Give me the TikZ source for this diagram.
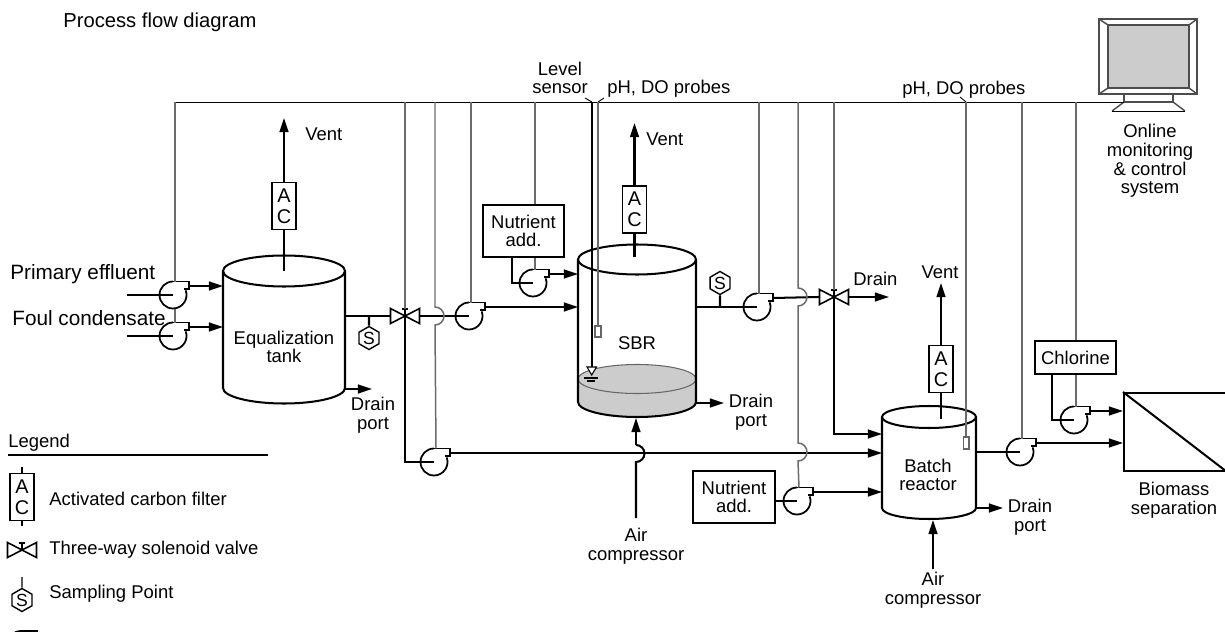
\documentclass[tikz,border=0pt]{standalone}
\usepackage{fontspec}
\setmainfont{Liberation Sans}
\usepackage{tikz}
\usetikzlibrary{positioning,arrows.meta,shapes.geometric}

\colorlet{signalgray}{black!58}
\colorlet{fillgray}{black!20}

\tikzset{
	lab/.style={font=\fontsize{10.5}{10.7}\selectfont,align=center,inner sep=0pt},
	labbig/.style={font=\fontsize{11.5}{12}\selectfont,align=left,inner sep=0pt},
	labfeed/.style={font=\fontsize{11.8}{12}\selectfont,align=left,inner sep=0pt},
	pipe/.style={line width=1.15pt,black},
	flow/.style={pipe,-{Triangle[length=8pt,width=5pt]}},
	signal/.style={line width=0.85pt,signalgray},
	wire/.style={line width=0.5pt,black},
	acbox/.style={draw,line width=1pt,fill=white,minimum width=0.48cm,minimum height=0.94cm,
		inner sep=0pt,align=center,font=\fontsize{11.3}{12}\selectfont},
	addbox/.style={draw,line width=1pt,fill=white,inner sep=0pt,align=center,
		font=\fontsize{10.5}{10.7}\selectfont},
	sample/.style={draw,regular polygon,regular polygon sides=6,shape border rotate=30,
		line width=0.8pt,minimum size=0.46cm,inner sep=0pt,font=\fontsize{10}{10}\selectfont},
	pump/.pic={
		\coordinate (-c) at (0,0);
		\coordinate (-top) at (2,-13.5);
		\coordinate (-out) at (15.7,-9);
		\draw[line width=1pt] (0,-13.5) -- (15.7,-13.5) -- (15.7,-5.7) -- (11,-5.7);
		\draw[line width=1pt] (0,-13.5) arc[start angle=-90,end angle=-380,radius=13.5];
	},
	valve/.pic={
		\coordinate (-c) at (0,0);
		\coordinate (-top) at (0,-7);
		\coordinate (-left) at (-14.5,0);
		\coordinate (-right) at (14.5,0);
		\draw[line width=0.9pt] (-14.5,-7.5) -- (14.5,7.5) -- (14.5,-7.5) -- (-14.5,7.5) -- cycle;
		\draw[line width=0.9pt] (0,0) -- (0,-7) (-3,-7) -- (3,-7);
	},
}

% cx, rx, top, bottom, ry
\newcommand{\tankshape}[6]{
	\coordinate (#1w) at ({#2-#3},#4);
	\coordinate (#1e) at ({#2+#3},#4);
	\coordinate (#1s) at (#2,{#5+#6});
	\draw[pipe] (#2,#4) ellipse[x radius=#3,y radius=#6];
	\draw[pipe] (#1w) -- ({#2-#3},#5) arc[start angle=180,end angle=0,x radius=#3,y radius=#6] -- (#1e);
}

\begin{document}
\begin{tikzpicture}[x=0.02cm,y=-0.02cm]

	\useasboundingbox (0,0) rectangle (1225,632);

	\node[labbig,anchor=west] (title) at (63,22) {Process flow diagram};

	% monitor
	\draw[line width=0.8pt,black!70] (1099,19) rectangle (1197,94);
	\draw[line width=0.8pt,black!70,fill=fillgray] (1108,25) rectangle (1189,88);
	\draw[line width=0.8pt,black!70] (1099,19) -- (1108,25) (1197,19) -- (1189,25) (1099,94) -- (1108,88) (1197,94) -- (1189,88);
	\draw[line width=0.8pt,black!70] (1124,94) -- (1124,102) -- (1173,102) -- (1173,94);
	\draw[line width=0.8pt,black!70] (1124,102) -- (1112,111) (1173,102) -- (1185,111);
	\draw[wire] (1112,111) -- (1185,111);
	\node[lab] (online) at (1150,161) {Online\\monitoring\\\& control\\system};

	% data bus
	\coordinate (busL) at (174,102);
	\coordinate (busR) at (1124,102);
	\draw[wire] (busL) -- (busR);

	% tanks
	\tankshape{eq}{284}{61}{271}{388}{15.5}
	\fill[fillgray] (578,379) -- (578,402) arc[start angle=180,end angle=0,x radius=59,y radius=15]
		-- (696,379) arc[start angle=0,end angle=-180,x radius=59,y radius=14.5];
	\draw[line width=0.6pt,black!60] (637,379) ellipse[x radius=59,y radius=14.5];
	\tankshape{sbr}{637}{59}{259.5}{402}{15}
	\tankshape{bat}{929}{47}{417}{508}{11}

	\node[lab] (eqtext) at (284,347) {Equalization\\tank};
	\node[lab] (sbrtext) at (637,343) {SBR};
	\node[lab] (battext) at (928,475) {Batch\\reactor};

	% pumps and valves
	\pic (pa) at (173,295) {pump};
	\pic (pb) at (173,336) {pump};
	\pic (pc) at (469,316) {pump};
	\pic (pd) at (533,283) {pump};
	\pic (pe) at (757,307) {pump};
	\pic (pf) at (434,462) {pump};
	\pic (pg) at (797,501) {pump};
	\pic (ph) at (1020,452) {pump};
	\pic (pi) at (1074,420) {pump};
	\pic (va) at (405,316) {valve};
	\pic (vb) at (834,297) {valve};

	% feed lines
	\coordinate (feedA) at (127,295);
	\coordinate (feedB) at (127,336);
	\node[labfeed,anchor=west] (primary) at (10,274) {Primary effluent};
	\node[labfeed,anchor=west] (foul) at (12,318) {Foul condensate};
	\draw[pipe] (feedA) -- (pa-c);
	\draw[pipe] (feedB) -- (pb-c);
	\draw[flow] (pa-out) -- (pa-out -| eqw);
	\draw[flow] (pb-out) -- (pb-out -| eqw);

	% activated carbon and vents
	\node[acbox] (aca) at (284,206) {A\\C};
	\node[acbox] (acb) at (634.5,209.5) {A\\C};
	\node[acbox] (acc) at (941,369) {A\\C};
	\coordinate (tipA) at (284,118);
	\coordinate (tipB) at (634.5,123);
	\coordinate (tipC) at (941,283);
	\draw[pipe] (284,271) -- (aca);
	\draw[pipe] (634.5,257) -- (acb);
	\draw[pipe] (941,419) -- (acc);
	\draw[flow] (aca) -- (tipA);
	\draw[flow] (acb) -- (tipB);
	\draw[flow] (acc) -- (tipC);
	\node[lab,anchor=west] (venta) at (305,134) {Vent};
	\node[lab,anchor=west] (ventb) at (646,139) {Vent};
	\node[lab] (ventc) at (940,272) {Vent};

	% equalization outlet
	\coordinate (eqo) at (345,316);
	\draw[pipe] (eqo) -- (va-left);
	\node[sample] (sa) at (369,338) {S};
	\draw[pipe] (369,316) -- (sa);
	\draw[pipe] (va-right) -- (pc-c);
	\draw[flow] (pc-out) -- (pc-out -| sbrw);
	\coordinate (eqd) at (345,389);
	\draw[flow] (eqd) -- (372,389);
	\node[lab] (draina) at (373,415.5) {Drain\\port};

	% bottom transfer line
	\draw[pipe] (va-c) -- (405,462) -- (pf-c);
	\draw[flow] (pf-out) -- (pf-out -| batw);

	% nutrient for SBR
	\node[addbox,minimum width=1.62cm,minimum height=1.04cm] (nutra) at (523.5,231) {Nutrient\\add.};
	\draw[pipe] (512,257) -- (512,283) -- (pd-c);
	\draw[flow] (pd-out) -- (pd-out -| sbrw);

	% level sensor and probes
	\coordinate (lvl) at (592,367);
	\draw[line width=0.6pt] (592,102) -- (lvl);
	\draw[line width=0.6pt,fill=white] (587,367) -- (596.5,367) -- (591.7,375) -- cycle;
	\draw[line width=0.6pt] (584,378) -- (598,378) (587,381) -- (595,381);
	\node[lab] (level) at (560,78) {Level\\sensor};
	\node[lab,anchor=west] (pha) at (607,89) {pH, DO probes};
	\node[lab,anchor=west] (phb) at (902,90) {pH, DO probes};
	\draw[wire] (585,98) -- (592,102);
	\draw[wire] (604,98) -- (598,102);
	\draw[wire] (960,97) -- (966,102);
	\draw[signal] (598,102) -- (598,326);
	\draw[line width=0.6pt,black!60] (595,326) rectangle (601,337);
	\draw[signal] (966,102) -- (966,437);
	\draw[line width=0.6pt,black!60] (963.5,437) rectangle (969,449);

	% SBR outlet
	\draw[pipe] (696,307) -- (pe-c);
	\node[sample] (sb) at (720,283) {S};
	\draw[pipe] (720,307) -- (sb);
	\draw[pipe] (pe-out) -- (vb-left);
	\coordinate (tipD) at (889,297);
	\draw[flow] (vb-right) -- (tipD);
	\node[lab,anchor=west] (drainb) at (853,279) {Drain};
	\draw[flow] (vb-c) -- (834,434) -- (834,434 -| batw);
	\draw[flow] (696,403) -- (724,403);
	\node[lab] (drainc) at (751,412.5) {Drain\\port};

	% air
	\coordinate (aira) at (636,518);
	\coordinate (airtipa) at (636,418);
	\draw[pipe] (aira) -- (636,462) arc[start angle=90,end angle=-90,radius=8.5];
	\draw[flow] (636,445) -- (airtipa);
	\node[lab] (compa) at (636,546.5) {Air\\compressor};
	\draw[flow] (933,569) -- (933,520);
	\node[lab] (compb) at (933,590.5) {Air\\compressor};

	% nutrient for batch
	\node[addbox,minimum width=1.64cm,minimum height=1.04cm] (nutrb) at (734,497) {Nutrient\\add.};
	\draw[pipe] (nutrb.east |- pg-c) -- (pg-c);
	\draw[flow] (pg-out) -- (pg-out -| batw);

	% batch outlet and chlorine
	\draw[pipe] (976,452) -- (ph-c);
	\node[draw,minimum width=2.04cm,minimum height=1.56cm,line width=1pt,anchor=north west] (biomass) at (1123,392) {};
	\draw[pipe] (biomass.north west) -- (biomass.south east);
	\node[lab] (biotext) at (1174,500.5) {Biomass\\separation};
	\draw[flow] (ph-out) -- (ph-out -| biomass.west);
	\node[addbox,minimum width=1.62cm,minimum height=0.66cm] (chlor) at (1075.5,357.5) {Chlorine};
	\draw[pipe] (1052,374) -- (1052,420) -- (pi-c);
	\draw[flow] (pi-out) -- (pi-out -| biomass.west);
	\draw[flow] (976,508) -- (1003,508);
	\node[lab] (draind) at (1030,517.5) {Drain\\port};

	% signal drops
	\draw[signal] (pa-top |- busL) -- (pa-top);
	\draw[signal] (175,309) -- (pb-top);
	\draw[signal] (405,102) -- (va-top);
	\draw[signal] (435,102) -- (435,307) arc[start angle=-90,end angle=90,radius=9] -- (pf-top);
	\draw[signal] (pc-top |- busL) -- (pc-top);
	\draw[signal] (pd-top |- busL) -- (pd-top |- nutra.north);
	\draw[signal] (pd-top |- nutra.south) -- (pd-top);
	\draw[signal] (pe-top |- busL) -- (pe-top);
	\draw[signal] (798,102) -- (798,288) arc[start angle=-90,end angle=90,radius=9]
		-- (798,443) arc[start angle=-90,end angle=90,radius=9] -- (pg-top);
	\draw[signal] (vb-top |- busL) -- (vb-top);
	\draw[signal] (ph-top |- busL) -- (ph-top);
	\draw[signal] (pi-top |- busL) -- (pi-top |- chlor.north);
	\draw[signal] (pi-top |- chlor.south) -- (pi-top);

	% legend
	\node[lab,anchor=west] (legend) at (8,443) {Legend};
	\coordinate (legL) at (8,455);
	\coordinate (legR) at (268,455);
	\draw[pipe] (legL) -- (legR);
	\node[acbox] (acl) at (22,497) {A\\C};
	\draw[line width=0.8pt] (22,467) -- (acl) (acl) -- (22,526);
	\node[lab,anchor=west] (legac) at (49,499) {Activated carbon filter};
	\pic (vl) at (22,550) {valve};
	\node[lab,anchor=west] (legv) at (49,550) {Three-way solenoid valve};
	\node[sample] (sl) at (22,600) {S};
	\draw[line width=0.8pt] (22,577) -- (sl);
	\node[lab,anchor=west] (legs) at (49,594) {Sampling Point};
	\pic (pl) at (21,644.5) {pump};

\end{tikzpicture}
\end{document}
